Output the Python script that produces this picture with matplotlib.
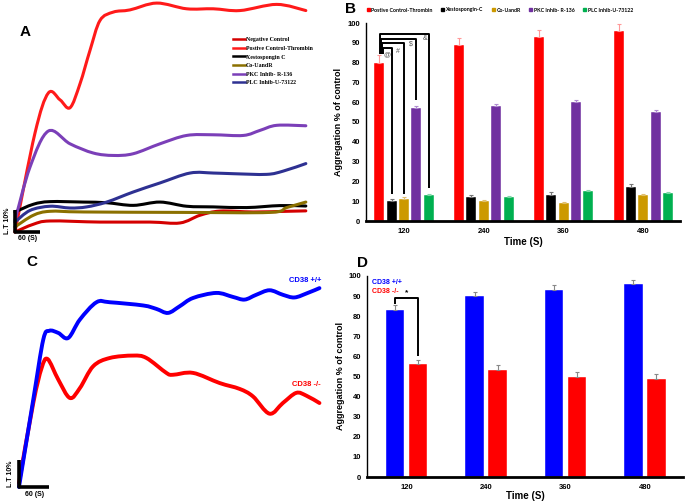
import numpy as np
import matplotlib.pyplot as plt
from matplotlib.path import Path
from matplotlib.patches import PathPatch, Patch
from matplotlib.lines import Line2D

W, H = 685, 503

# ---- Panel A: aggregation traces, time (s) vs light transmission (%)
a_neg_t = [0, 44, 84, 204, 324, 396, 444, 492, 572, 652, 698]
a_neg_y = [0, 3.5, 5, 4.5, 4.5, 4.1, 7.6, 9.5, 9.1, 9.4, 9.6]
a_pos_t = [0, 48, 80, 108, 132, 156, 180, 204, 236, 276, 340, 412, 476, 540, 628, 698]
a_pos_y = [0, 45, 63.2, 60.1, 56.5, 67.4, 82.6, 96.2, 100, 101, 104.1, 101.5, 101.5, 100.7, 103.5, 100.7]
a_xes_t = [0, 44, 84, 164, 220, 284, 348, 412, 476, 556, 636, 698]
a_xes_y = [9.1, 12.6, 13.8, 13.6, 13.3, 12.1, 13.6, 11.7, 11.4, 11.1, 12, 11.8]
a_co_t = [0, 44, 84, 164, 404, 612, 652, 698]
a_co_y = [2.3, 7.6, 9.4, 9.1, 8.9, 8.9, 11.1, 13.6]
a_pkc_t = [0, 36, 80, 132, 188, 236, 284, 348, 412, 476, 548, 588, 628, 698]
a_pkc_y = [5.3, 29.5, 45.9, 40.1, 35.9, 34.8, 35.6, 40.1, 43.9, 44.2, 43.9, 46.2, 48.5, 48.3]
a_plc_t = [0, 36, 84, 132, 172, 220, 284, 348, 420, 476, 524, 604, 644, 698]
a_plc_y = [4.5, 9.8, 11.7, 10.9, 11.4, 13.6, 18.2, 22.3, 26.8, 26.8, 26.5, 26.2, 27.7, 31.1]
a_labels = ["Negative Control", "Postive Control-Thrombin", "Xestospongin C",
            "Co-UandR", "PKC Inhib- R-136", "PLC Inhib-U-73122"]
a_colors = ["#d40000", "#ff1a1a", "#000000", "#8b7000", "#7b3fb8", "#2e3192"]

# ---- Panel B: bar chart
times = ["120", "240", "360", "480"]
b_labels = ["Postive Control-Thrombin", "Xestospongin-C", "Co-UandR",
            "PKC Inhib- R-136", "PLC Inhib-U-73122"]
b_colors = ["#ff0000", "#000000", "#cc9900", "#7030a0", "#00b050"]
b_ecolors = ["#ff9999", "#777777", "#e0c070", "#b08cd0", "#80d8a8"]
b_vals = [[80, 89, 93, 96],
          [10, 12, 13, 17],
          [11, 10, 9, 13],
          [57, 58, 60, 55],
          [13, 12, 15, 14]]
b_errs = [[4, 3.6, 3.3, 3.7],
          [1.2, 1.2, 1.5, 1.5],
          [1, 0.8, 0.8, 0.8],
          [1, 1, 1, 1],
          [0.8, 0.6, 0.5, 0.6]]
b_sig_marks = ["@", "#", "$", "&"]
b_sig_heights = [87.6, 89.9, 92.1, 94.3]
b_sig_ends = [13.4, 13.4, 61.3, 16.5]

# ---- Panel C: CD38 traces
c_wt_t = [0, 28.3, 48.1, 60, 77.8, 97.5, 120.6, 153.5, 179.9, 245.8, 272.2, 295.2,
          318.3, 344.7, 390.8, 423.7, 446.8, 469.9, 496.2, 522.6, 545.7, 572, 595.1]
c_wt_y = [0, 32.8, 55.3, 58.6, 57.8, 55.9, 62.8, 69.3, 69.3, 68.1, 66.8, 65.3,
          67.8, 70.9, 72.8, 71.3, 70.3, 72.1, 73.8, 72.1, 71.1, 72.8, 74.6]
c_ko_t = [0, 28.3, 44.8, 56.7, 77.8, 100.8, 120.6, 147, 179.9, 226, 252.4, 291.9,
          305.1, 344.7, 397.4, 436.9, 463.3, 496.2, 522.6, 549, 568.7, 595.1]
c_ko_y = [1.5, 31.5, 44.6, 48, 40.3, 33.4, 37.1, 45.3, 48.4, 49.3, 48.4, 42.8,
          42.1, 42.8, 39, 36.8, 34, 27.5, 31.5, 35.3, 34.3, 31.5]

# ---- Panel D: CD38 bars
d_labels = ["CD38 +/+", "CD38 -/-"]
d_colors = ["#0000ff", "#ff0000"]
d_vals = [[83, 90, 93, 96], [56, 53, 50, 49]]
d_errs = [[2.4, 2, 2.4, 2.2], [2.4, 2.6, 2.4, 2.4]]


def smooth(ax, x, y, color, lw):
    # catmull-rom through the points, drawn as a bezier path
    p = np.column_stack([x, y]).astype(float)
    verts = [p[0]]
    codes = [Path.MOVETO]
    for i in range(len(p) - 1):
        p0 = p[i - 1] if i > 0 else p[i]
        p3 = p[i + 2] if i + 2 < len(p) else p[i + 1]
        c1 = p[i] + (p[i + 1] - p0) / 6
        c2 = p[i + 1] - (p3 - p[i]) / 6
        verts += [c1, c2, p[i + 1]]
        codes += [Path.CURVE4] * 3
    ax.add_patch(PathPatch(Path(verts, codes), fill=False, ec=color, lw=lw,
                           capstyle='round', joinstyle='round'))


def add_ax(l, t, r, b):
    return fig.add_axes([l / W, 1 - b / H, (r - l) / W, (b - t) / H])


def scale_bar(ax, fs):
    ax.plot([0, 0, 60], [10, 0, 0], color='black', lw=2.6, solid_capstyle='butt')
    ax.text(-9, 5, "L.T 10%", rotation=90, ha='right', va='center',
            fontsize=fs, fontweight='bold')
    ax.text(30, -1.5, "60 (S)", ha='center', va='top', fontsize=fs, fontweight='bold')


plt.rcParams['font.family'] = ['Liberation Sans', 'DejaVu Sans']
fig = plt.figure(figsize=(W / 100, H / 100), dpi=100)

# ---------------- A
axA = add_ax(0, 0, 320, 250)
axA.set_xlim(-36, 732)
axA.set_ylim(-8.2, 105.5)
axA.axis('off')
traces = [(a_neg_t, a_neg_y), (a_pos_t, a_pos_y), (a_xes_t, a_xes_y),
          (a_co_t, a_co_y), (a_pkc_t, a_pkc_y), (a_plc_t, a_plc_y)]
for (t, y), c in zip(traces, a_colors):
    smooth(axA, t, y, c, 2.2)
scale_bar(axA, 5)
handles = [Line2D([], [], color=c, lw=1.8) for c in a_colors]
axA.legend(handles, a_labels, loc='upper left', bbox_to_anchor=(228 / W, 1 - 32 / H),
           bbox_transform=fig.transFigure, frameon=False, handlelength=2.0,
           handletextpad=0.1, labelspacing=0.6,
           prop={'family': 'Liberation Serif', 'weight': 'bold', 'size': 4.2})
fig.text(25 / W, 1 - 32 / H, "A", fontsize=11, fontweight='bold', ha='center', va='center')

# ---------------- C
axC = add_ax(0, 250, 330, 503)
axC.set_xlim(-37.6, 616)
axC.set_ylim(-6, 88.9)
axC.axis('off')
smooth(axC, c_ko_t, c_ko_y, "#ff0000", 2.8)
smooth(axC, c_wt_t, c_wt_y, "#0000ff", 2.8)
scale_bar(axC, 5)
axC.text(c_wt_t[-1] + 3, c_wt_y[-1] + 1.5, d_labels[0], color="#0000ff", ha='right',
         va='bottom', fontsize=5.5, fontweight='bold')
axC.text(c_ko_t[-1] + 3, c_ko_y[-1] + 5.5, d_labels[1], color="#ff0000", ha='right',
         va='bottom', fontsize=5.5, fontweight='bold')
fig.text(32 / W, 1 - 262 / H, "C", fontsize=11, fontweight='bold', ha='center', va='center')


def style_bar_ax(ax, w_px, h_px, ylab_px, xlab_px):
    ax.set_ylim(0, 100)
    ax.set_yticks(range(0, 101, 10))
    ax.set_xticks(range(len(times)))
    ax.set_xticklabels(times)
    for s in ['top', 'right']:
        ax.spines[s].set_visible(False)
    ax.spines['left'].set_linewidth(1.0)
    ax.spines['bottom'].set_linewidth(2.0)
    ax.tick_params(length=0, labelsize=5.5)
    ax.tick_params(axis='x', pad=5)
    ax.tick_params(axis='y', pad=4)
    for lab in ax.get_xticklabels() + ax.get_yticklabels():
        lab.set_fontweight('bold')
    ax.set_ylabel("Aggregation % of control", fontsize=6.5, fontweight='bold')
    ax.yaxis.set_label_coords(-ylab_px / w_px, 0.5)
    ax.set_xlabel("Time (S)", fontsize=7, fontweight='bold')
    ax.xaxis.set_label_coords(0.5, -xlab_px / h_px)


def bracket(ax, x0, y0, x1, y1, yh):
    ax.plot([x0, x0, x1, x1], [y0, yh, yh, y1], color='black', lw=1.4,
            solid_joinstyle='round', solid_capstyle='butt', clip_on=False)


# ---------------- B
axB = add_ax(366, 23, 680, 221)
x = np.arange(len(times))
step, bw = 0.155, 0.125
for i in range(5):
    axB.bar(x + (i - 2) * step, b_vals[i], bw, color=b_colors[i], edgecolor='white',
            lw=0.3, yerr=[np.zeros(4), b_errs[i]], ecolor=b_ecolors[i],
            error_kw={'elinewidth': 0.8, 'capsize': 1.2, 'capthick': 0.8})
axB.set_xlim(-0.477, 3.46)
style_bar_ax(axB, 314, 198, 23, 16)
left_x = [-0.26, -0.272, -0.285, -0.30]
right_x = [(i - 2) * step for i in range(1, 5)]
for k in range(4):
    bracket(axB, left_x[k], 84.5, right_x[k], b_sig_ends[k], b_sig_heights[k])
sym_x = [-0.21, -0.075, 0.09, 0.26]
sym_y = [84.2, 85.7, 89.3, 92.3]
for k in range(4):
    axB.text(sym_x[k], sym_y[k], b_sig_marks[k], fontsize=5, color='#555555',
             ha='center', va='center')
bh = [Patch(color=c) for c in b_colors]
fig.legend(bh, b_labels, loc='center', bbox_to_anchor=(500 / W, 1 - 10 / H), ncol=5,
           frameon=False, handlelength=0.6, handleheight=0.6, handletextpad=0.3,
           columnspacing=1.6, prop={'family': 'Lato', 'weight': 'bold', 'size': 3.8})
fig.text(351 / W, 1 - 9 / H, "B", fontsize=11, fontweight='bold', ha='center', va='center')

# ---------------- D
axD = add_ax(367, 276, 683, 477)
dstep, dw = 0.29, 0.23
for i in range(2):
    axD.bar(x + (i - 0.5) * dstep, d_vals[i], dw, color=d_colors[i], edgecolor='white',
            lw=0.3, yerr=[np.zeros(4), d_errs[i]], ecolor='#888888',
            error_kw={'elinewidth': 0.8, 'capsize': 1.2, 'capthick': 0.8})
axD.set_xlim(-0.5, 3.48)
style_bar_ax(axD, 316, 201, 22, 14)
bracket(axD, -0.145, 86.2, 0.145, 60, 89.2)
axD.text(0, 90, "*", fontsize=6, ha='center', va='bottom', fontweight='bold')
axD.text(-0.44, 96.7, d_labels[0], color=d_colors[0], fontsize=5, fontweight='bold', va='center')
axD.text(-0.44, 92.4, d_labels[1], color=d_colors[1], fontsize=5, fontweight='bold', va='center')
fig.text(362 / W, 1 - 263 / H, "D", fontsize=11, fontweight='bold', ha='center', va='center')

fig.savefig("out.png", dpi=100)
